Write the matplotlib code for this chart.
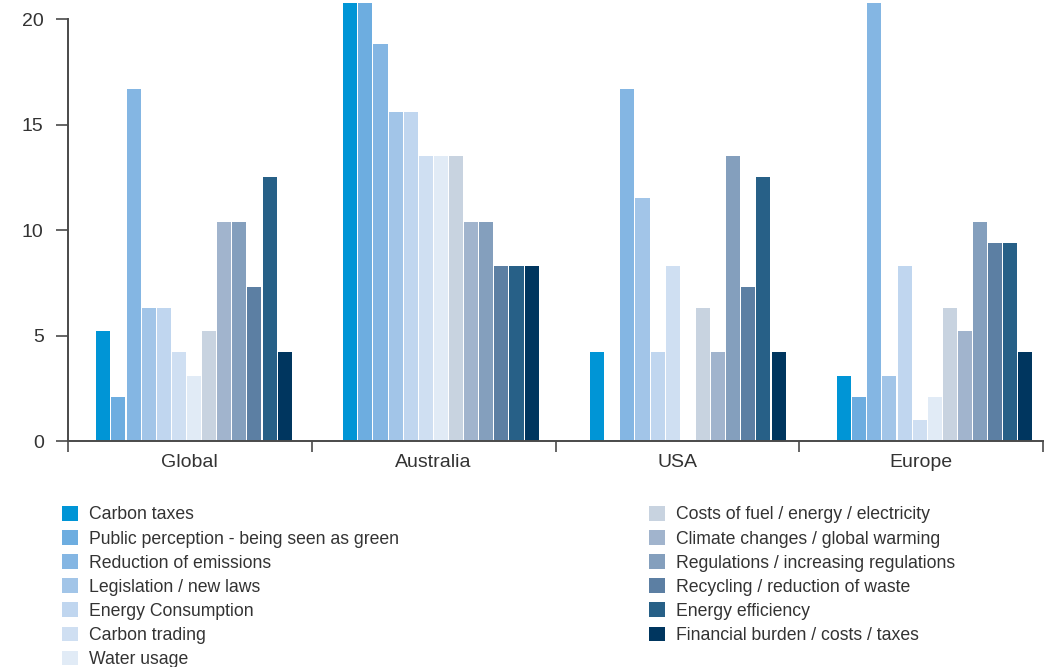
import numpy as np
import matplotlib.pyplot as plt
from matplotlib.patches import Patch

plt.rcParams['font.family'] = ['Liberation Sans', 'DejaVu Sans']

regions = ["Global", "Australia", "USA", "Europe"]

drivers = [
    "Carbon taxes",
    "Public perception - being seen as green",
    "Reduction of emissions",
    "Legislation / new laws",
    "Energy Consumption",
    "Carbon trading",
    "Water usage",
    "Costs of fuel / energy / electricity",
    "Climate changes / global warming",
    "Regulations / increasing regulations",
    "Recycling / reduction of waste",
    "Energy efficiency",
    "Financial burden / costs / taxes",
]

colors = [
    "#0095d6", "#6dade0", "#84b6e3", "#a2c5e8", "#c0d6ef", "#cfdff2", "#e1ebf6",
    "#c8d3e0", "#a1b4cd", "#849fbd", "#5c7fa3", "#276087", "#00365f",
]

# percentage of respondents per driver, one list per region
global_vals = [5.2, 2.1, 16.7, 6.3, 6.3, 4.2, 3.1, 5.2, 10.4, 10.4, 7.3, 12.5, 4.2]
australia_vals = [22.9, 22.9, 18.8, 15.6, 15.6, 13.5, 13.5, 13.5, 10.4, 10.4, 8.3, 8.3, 8.3]
usa_vals = [4.2, 0.05, 16.7, 11.5, 4.2, 8.3, 0.0, 6.3, 4.2, 13.5, 7.3, 12.5, 4.2]
europe_vals = [3.1, 2.1, 22.9, 3.1, 8.3, 1.0, 2.1, 6.3, 5.2, 10.4, 9.4, 9.4, 4.2]

values = np.array([global_vals, australia_vals, usa_vals, europe_vals])

fig = plt.figure(figsize=(10.53, 6.67), dpi=100)
ax = fig.add_axes([68 / 1053, 1 - 441 / 667, (1043 - 68) / 1053, 438 / 667])

n = len(drivers)
slot = 0.062
first_center = 0.517
pitch = 1.013
centers = first_center + pitch * np.arange(len(regions))

for j in range(n):
    x = centers + (j - (n - 1) / 2) * slot
    ax.bar(x, values[:, j], width=slot * 0.93, color=colors[j], linewidth=0)

ax.set_xlim(0, 4)
ax.set_ylim(0, 20.76)

axis_color = "#4a4a4a"
text_color = "#333333"
for side in ["top", "right"]:
    ax.spines[side].set_visible(False)
ax.spines["left"].set_bounds(0, 20)
for side in ["left", "bottom"]:
    ax.spines[side].set_color(axis_color)
    ax.spines[side].set_linewidth(1.4)

ax.set_yticks([0, 5, 10, 15, 20])
ax.tick_params(axis="y", length=9, width=1.2, color=axis_color,
               labelsize=14, labelcolor=text_color, pad=8.5)

ax.set_xticks(np.arange(5))
ax.set_xticklabels([])
ax.set_xticks(np.arange(4) + 0.5, minor=True)
ax.set_xticklabels(regions, minor=True)
ax.tick_params(axis="x", which="major", length=8, width=1.2, color=axis_color)
ax.tick_params(axis="x", which="minor", length=0, labelsize=14,
               labelcolor=text_color, pad=9.5)

handles = [Patch(facecolor=c, edgecolor="none") for c in colors]
legend_kw = dict(frameon=False, fontsize=12.7, handlelength=0.9, handleheight=0.9,
                 handletextpad=0.62, labelspacing=0.38, borderaxespad=0,
                 borderpad=0, labelcolor=text_color)
leg1 = fig.legend(handles[:7], drivers[:7], loc="upper left",
                  bbox_to_anchor=(62 / 1053, 1 - 506 / 667), **legend_kw)
leg2 = fig.legend(handles[7:], drivers[7:], loc="upper left",
                  bbox_to_anchor=(649 / 1053, 1 - 506 / 667), **legend_kw)

fig.savefig("out.png", dpi=100, facecolor="white")
